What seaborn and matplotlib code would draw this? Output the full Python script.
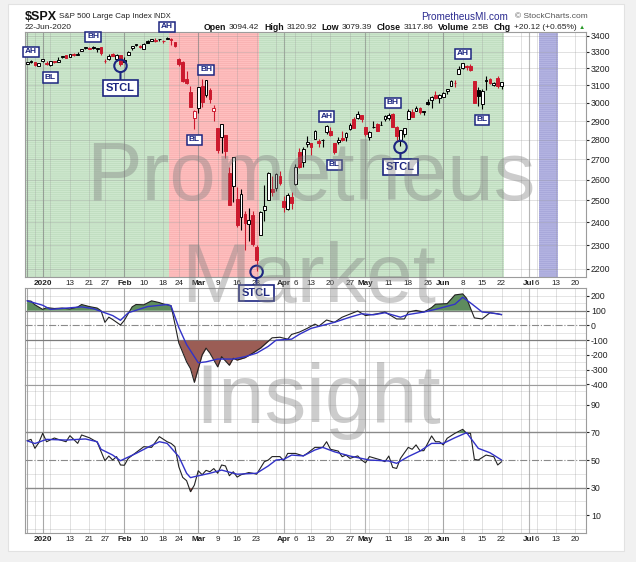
import numpy as np
import pandas as pd
import matplotlib
matplotlib.use("Agg")
import matplotlib.pyplot as plt
from matplotlib.patches import Rectangle
import seaborn as sns

sns.set_style("white")
plt.rcParams["font.family"] = ["Liberation Sans", "DejaVu Sans"]
plt.rcParams["hatch.linewidth"] = 0.35

W, H = 636, 562

# trading calendar (NYSE holidays removed)
holidays = ["2020-01-01", "2020-01-20", "2020-02-17", "2020-04-10", "2020-05-25", "2020-07-03"]
days = pd.bdate_range("2019-12-26", "2020-07-24")
days = days[~days.isin(pd.to_datetime(holidays))]
pos = {d.strftime("%Y-%m-%d"): i for i, d in enumerate(days)}

# $SPX daily candles, 26-Dec-2019 .. 22-Jun-2020
opens = [3227.20, 3247.23, 3240.09, 3215.18,
         3244.67, 3226.36, 3217.55, 3241.86, 3238.59, 3266.03, 3281.81, 3271.13, 3285.35, 3282.27, 3302.97,
         3323.66, 3321.03, 3330.02, 3315.77, 3333.10, 3247.16, 3255.35, 3289.46, 3256.45, 3282.33,
         3235.66, 3280.61, 3324.91, 3344.92, 3335.54, 3318.28, 3365.87, 3370.50, 3365.90, 3378.08,
         3369.04, 3380.39, 3380.45, 3360.50, 3257.61, 3238.94, 3139.90, 3062.54, 2916.90,
         2974.28, 3096.46, 3045.75, 3075.70, 2954.20, 2863.89, 2813.48, 2825.60, 2630.86, 2569.99, 2508.59,
         2425.66, 2436.50, 2393.48, 2431.94, 2290.71, 2344.44, 2457.77, 2501.29, 2555.87, 2558.98, 2614.69,
         2498.08, 2458.54, 2514.92, 2578.28, 2738.65, 2685.00, 2776.99, 2782.46, 2805.10, 2795.64, 2799.34,
         2842.43, 2845.62, 2784.81, 2787.89, 2810.42, 2812.64, 2854.65, 2909.96, 2918.46, 2930.91,
         2869.09, 2815.01, 2868.88, 2883.14, 2878.26, 2908.83, 2915.46, 2939.50, 2865.86, 2794.54,
         2829.95, 2913.86, 2948.59, 2953.63, 2969.95, 2948.05, 3004.08, 3015.65, 3046.61, 3025.17,
         3031.15, 3064.78, 3098.90, 3111.56, 3163.84, 3199.92, 3213.32, 3213.42, 3123.53, 3071.04,
         2993.76, 3131.00, 3136.13, 3101.64, 3140.29, 3094.42]
highs = [3240.08, 3247.93, 3240.92, 3231.72,
         3258.14, 3246.15, 3246.84, 3244.91, 3267.07, 3275.58, 3282.99, 3288.13, 3294.25, 3298.66, 3317.11,
         3329.88, 3329.79, 3337.77, 3326.88, 3333.18, 3258.85, 3285.78, 3293.47, 3285.91, 3282.33,
         3268.44, 3306.92, 3337.58, 3347.96, 3341.42, 3352.26, 3375.63, 3381.47, 3385.09, 3380.69,
         3375.01, 3393.52, 3389.15, 3360.76, 3259.81, 3246.99, 3182.51, 3097.07, 2959.72,
         3090.96, 3136.72, 3130.97, 3083.04, 2985.93, 2863.89, 2882.59, 2825.60, 2660.95, 2711.33, 2562.98,
         2553.93, 2453.57, 2466.97, 2453.01, 2300.73, 2449.71, 2571.42, 2637.01, 2615.91, 2631.80, 2641.39,
         2522.75, 2533.22, 2538.18, 2676.85, 2756.89, 2760.75, 2818.57, 2782.46, 2851.85, 2801.88, 2806.51,
         2879.22, 2868.98, 2785.54, 2815.10, 2844.90, 2842.71, 2887.72, 2921.15, 2954.86, 2930.91,
         2869.09, 2844.24, 2898.23, 2891.11, 2901.92, 2932.16, 2944.25, 2945.82, 2874.14, 2852.80,
         2865.01, 2968.09, 2964.21, 2980.29, 2978.50, 2956.76, 3021.72, 3036.25, 3068.67, 3049.17,
         3062.18, 3081.07, 3130.94, 3128.91, 3211.72, 3233.13, 3222.71, 3223.27, 3123.53, 3088.42,
         3079.76, 3153.45, 3141.16, 3120.00, 3155.53, 3120.92]
lows = [3227.20, 3234.37, 3216.57, 3212.03,
        3235.53, 3222.34, 3214.64, 3232.43, 3236.67, 3263.67, 3260.86, 3268.43, 3277.19, 3280.69, 3302.82,
        3318.86, 3316.61, 3320.04, 3301.87, 3281.53, 3234.50, 3253.22, 3271.89, 3242.80, 3214.68,
        3235.66, 3280.61, 3313.75, 3334.39, 3322.12, 3317.77, 3352.72, 3369.72, 3360.52, 3366.15,
        3355.61, 3378.83, 3341.02, 3328.45, 3214.65, 3118.77, 3108.99, 2977.39, 2855.84,
        2945.19, 2976.63, 3034.38, 2999.83, 2901.54, 2734.43, 2734.00, 2707.22, 2478.86, 2492.37, 2380.94,
        2367.04, 2280.52, 2319.78, 2295.56, 2191.86, 2344.44, 2407.53, 2500.72, 2520.02, 2545.28, 2571.15,
        2447.49, 2455.79, 2459.96, 2574.57, 2657.67, 2663.30, 2762.36, 2721.17, 2805.10, 2761.54, 2764.32,
        2830.88, 2820.43, 2727.10, 2775.95, 2794.26, 2791.76, 2852.89, 2860.71, 2912.16, 2892.47,
        2821.61, 2797.85, 2863.55, 2847.65, 2876.48, 2902.88, 2903.44, 2869.59, 2793.15, 2766.64,
        2816.78, 2913.86, 2922.35, 2953.63, 2938.57, 2933.59, 2988.17, 2969.75, 3023.40, 2998.61,
        3031.15, 3051.64, 3098.90, 3090.41, 3163.84, 3196.00, 3193.11, 3181.49, 2999.49, 2984.47,
        2965.66, 3076.06, 3108.03, 3093.51, 3083.11, 3079.39]
closes = [3239.91, 3240.02, 3221.29, 3230.78,
          3257.85, 3234.85, 3246.28, 3237.18, 3253.05, 3274.70, 3265.35, 3288.13, 3283.15, 3289.29, 3316.81,
          3329.62, 3320.79, 3321.75, 3325.54, 3295.47, 3243.63, 3276.24, 3273.40, 3283.66, 3225.52,
          3248.92, 3297.59, 3334.69, 3345.78, 3327.71, 3352.09, 3357.75, 3379.45, 3373.94, 3380.16,
          3370.29, 3386.15, 3373.23, 3337.75, 3225.89, 3128.21, 3116.39, 2978.76, 2954.22,
          3090.23, 3003.37, 3130.12, 3023.94, 2972.37, 2746.56, 2882.23, 2741.38, 2480.64, 2711.02, 2386.13,
          2529.19, 2398.10, 2409.39, 2304.92, 2237.40, 2447.33, 2475.56, 2630.07, 2541.47, 2626.65, 2584.59,
          2470.50, 2526.90, 2488.65, 2663.68, 2659.41, 2749.98, 2789.82, 2761.63, 2846.06, 2783.36, 2799.55,
          2874.56, 2823.16, 2736.56, 2799.31, 2797.80, 2836.74, 2878.48, 2863.39, 2939.51, 2912.43,
          2830.71, 2842.74, 2868.44, 2848.42, 2881.19, 2929.80, 2930.32, 2870.12, 2820.00, 2852.50,
          2863.70, 2953.91, 2922.94, 2971.61, 2948.51, 2955.45, 2991.77, 3036.13, 3029.73, 3044.31,
          3055.73, 3080.82, 3122.87, 3112.35, 3193.93, 3232.39, 3207.18, 3190.14, 3002.10, 3041.31,
          3066.59, 3124.74, 3113.49, 3115.34, 3097.74, 3117.86]
close_before = 3223.38  # 24-Dec-2019

# CCI panel (black = CCI, blue = its average)
cci_dates = ["2019-12-26", "2019-12-27", "2019-12-30", "2020-01-02", "2020-01-03", "2020-01-07", "2020-01-09",
             "2020-01-13", "2020-01-15", "2020-01-16", "2020-01-21", "2020-01-23", "2020-01-24", "2020-01-27",
             "2020-01-28", "2020-01-29", "2020-01-31", "2020-02-03", "2020-02-05", "2020-02-06", "2020-02-10",
             "2020-02-12", "2020-02-14", "2020-02-18", "2020-02-20", "2020-02-21", "2020-02-24", "2020-02-26",
             "2020-02-27", "2020-02-28", "2020-03-02", "2020-03-03", "2020-03-04", "2020-03-05", "2020-03-09",
             "2020-03-10", "2020-03-12", "2020-03-13", "2020-03-16", "2020-03-18", "2020-03-20", "2020-03-24",
             "2020-03-26", "2020-03-27", "2020-03-31", "2020-04-02", "2020-04-03", "2020-04-07", "2020-04-09",
             "2020-04-14", "2020-04-15", "2020-04-17", "2020-04-21", "2020-04-23", "2020-04-29", "2020-05-01",
             "2020-05-06", "2020-05-08", "2020-05-13", "2020-05-15", "2020-05-18", "2020-05-20", "2020-05-22",
             "2020-05-27", "2020-05-28", "2020-06-02", "2020-06-04", "2020-06-08", "2020-06-09", "2020-06-11",
             "2020-06-15", "2020-06-17", "2020-06-19", "2020-06-22"]
cci_vals = [167, 165, 140, 109, 121, 115, 118, 112, 125, 142, 128, 118, 100, 21,
            56, 40, 3, 35, 126, 142, 140, 167, 155, 146, 135, 10, -119, -247,
            -293, -386, -293, -200, -154, -188, -281, -212, -270, -223, -235, -219, -188, -154,
            -107, -84, -80, -93, -61, -45, -20, 9, -5, 37, 21, 56, 98, 67,
            79, 91, 44, 44, 91, 102, 91, 121, 144, 148, 207, 214, 184, 51,
            44, 86, 79, 72]
cci_avg_dates = ["2019-12-26", "2020-01-02", "2020-01-06", "2020-01-16", "2020-01-22", "2020-01-29", "2020-01-31",
                 "2020-02-04", "2020-02-11", "2020-02-19", "2020-02-20", "2020-02-24", "2020-02-26", "2020-03-02",
                 "2020-03-04", "2020-03-09", "2020-03-13", "2020-03-18", "2020-03-23", "2020-03-26", "2020-03-30",
                 "2020-04-03", "2020-04-07", "2020-04-13", "2020-04-21", "2020-04-27", "2020-04-30", "2020-05-05",
                 "2020-05-08", "2020-05-14", "2020-05-18", "2020-05-22", "2020-05-28", "2020-06-04", "2020-06-08",
                 "2020-06-10", "2020-06-15", "2020-06-17", "2020-06-22"]
cci_avg_vals = [167, 137, 109, 126, 114, 67, 35, 86, 128, 142, 132, -14, -130, -253,
                -247, -228, -228, -212, -188, -142, -100, -93, -60, -20, 21, 56, 79, 72,
                86, 56, 74, 91, 109, 144, 191, 153, 91, 86, 74]

# RSI panel (black = RSI, blue = its average)
rsi_dates = ["2019-12-26", "2019-12-27", "2019-12-30", "2019-12-31", "2020-01-02", "2020-01-03", "2020-01-07",
             "2020-01-08", "2020-01-10", "2020-01-13", "2020-01-15", "2020-01-16", "2020-01-21", "2020-01-23",
             "2020-01-27", "2020-01-28", "2020-01-29", "2020-01-30", "2020-01-31", "2020-02-03", "2020-02-04",
             "2020-02-10", "2020-02-12", "2020-02-14", "2020-02-19", "2020-02-20", "2020-02-21", "2020-02-24",
             "2020-02-25", "2020-02-26", "2020-02-27", "2020-02-28", "2020-03-02", "2020-03-03", "2020-03-04",
             "2020-03-05", "2020-03-06", "2020-03-09", "2020-03-10", "2020-03-11", "2020-03-12", "2020-03-13",
             "2020-03-16", "2020-03-17", "2020-03-19", "2020-03-20", "2020-03-23", "2020-03-25", "2020-03-26",
             "2020-03-27", "2020-03-31", "2020-04-01", "2020-04-02", "2020-04-06", "2020-04-08", "2020-04-09",
             "2020-04-14", "2020-04-16", "2020-04-17", "2020-04-20", "2020-04-22", "2020-04-23", "2020-04-24",
             "2020-04-27", "2020-04-29", "2020-04-30", "2020-05-01", "2020-05-04", "2020-05-07", "2020-05-08",
             "2020-05-11", "2020-05-12", "2020-05-13", "2020-05-14", "2020-05-18", "2020-05-19", "2020-05-20",
             "2020-05-21", "2020-05-22", "2020-05-27", "2020-05-28", "2020-05-29", "2020-06-01", "2020-06-02",
             "2020-06-04", "2020-06-08", "2020-06-09", "2020-06-10", "2020-06-11", "2020-06-12", "2020-06-16",
             "2020-06-18", "2020-06-19", "2020-06-22"]
rsi_vals = [64, 65, 58.5, 62.6, 69.4, 63.3, 66, 65, 63.3, 67.7, 62.1, 68.2, 66.2, 63,
            49.5, 52.9, 50, 52.5, 46.4, 46.2, 51.2, 59.7, 59.2, 67, 63.3, 62.1, 59.7, 45.1,
            37.4, 35, 27, 31.8, 42.2, 39.3, 42.5, 41.5, 43.8, 40.4, 46.4, 45.7, 38.6, 41.5,
            37.6, 39.3, 40.9, 40.4, 39.7, 48.8, 50, 52.5, 52.5, 49.5, 54.8, 54.8, 53, 54.8,
            59.2, 59.2, 63.3, 57.8, 56.5, 52.4, 53.6, 51.2, 53, 50, 48, 52.5, 50, 48.8,
            52.9, 44.6, 43.9, 51.2, 59.2, 57.8, 61, 56.8, 56.8, 67.5, 63.3, 63.3, 61, 65.8,
            69.4, 72.3, 69.4, 69.4, 50.5, 50, 53.6, 52.4, 46.4, 48.8]
rsi_avg_dates = ["2019-12-26", "2019-12-30", "2020-01-03", "2020-01-10", "2020-01-17", "2020-01-23", "2020-01-24",
                 "2020-01-29", "2020-01-31", "2020-02-06", "2020-02-11", "2020-02-14", "2020-02-19", "2020-02-24",
                 "2020-02-26", "2020-02-27", "2020-02-28", "2020-03-05", "2020-03-10", "2020-03-16", "2020-03-23",
                 "2020-03-26", "2020-03-30", "2020-04-01", "2020-04-03", "2020-04-08", "2020-04-14", "2020-04-16",
                 "2020-04-21", "2020-04-27", "2020-05-04", "2020-05-11", "2020-05-13", "2020-05-18", "2020-05-21",
                 "2020-05-27", "2020-06-01", "2020-06-04", "2020-06-09", "2020-06-12", "2020-06-17", "2020-06-22"]
rsi_avg_vals = [64, 62, 65, 64.5, 65.3, 63.3, 57.8, 53.6, 49.5, 54.8, 59.2, 63.3, 62.1, 52.5,
                40.4, 37.2, 37.9, 40.4, 42.7, 39.7, 40.4, 45.7, 50, 50.5, 53.6, 53, 57.3, 59.2,
                56, 52.9, 50, 49.3, 47.6, 52.5, 56.5, 62.1, 62.1, 66.2, 69.9, 58.5, 55.3, 50]

# chart annotations
mark_text = ["AH", "BL", "BH", "AH", "BL", "BH", "AH", "BL", "BH", "AH", "BL"]
mark_dates = ["2019-12-27", "2020-01-06", "2020-01-22", "2020-02-19", "2020-02-28", "2020-03-04",
              "2020-04-17", "2020-04-21", "2020-05-12", "2020-06-08", "2020-06-15"]
mark_prices = [3300, 3144, 3394, 3458, 2800, 3191, 2923, 2672, 3000, 3288, 2906]
stcl_dates = ["2020-01-31", "2020-03-23", "2020-05-14"]
stcl_circle = [3215, 2188, 2763]
stcl_box = [3086, 2103, 2662]

# shaded signal periods: (start date, end date)
green_periods = [("2019-12-26", "2020-02-19"), ("2020-03-24", "2020-06-22")]
red_periods = [("2020-02-20", "2020-03-23")]
blue_periods = [("2020-07-07", "2020-07-13")]

tick_dates = ["2020-01-02", "2020-01-13", "2020-01-21", "2020-01-27", "2020-02-03", "2020-02-10", "2020-02-18",
              "2020-02-24", "2020-03-02", "2020-03-09", "2020-03-16", "2020-03-23", "2020-04-01", "2020-04-06",
              "2020-04-13", "2020-04-20", "2020-04-27", "2020-05-01", "2020-05-11", "2020-05-18", "2020-05-26",
              "2020-06-01", "2020-06-08", "2020-06-15", "2020-06-22", "2020-07-01", "2020-07-06", "2020-07-13",
              "2020-07-20"]
tick_labels = ["2020", "13", "21", "27", "Feb", "10", "18", "24", "Mar", "9", "16", "23", "Apr", "6",
               "13", "20", "27", "May", "11", "18", "26", "Jun", "8", "15", "22", "Jul", "6", "13", "20"]

navy = "#1c2580"
red = "#cc1a2e"


def px_axes(left, top, right, bottom):
    return [left / W, 1 - bottom / H, (right - left) / W, (bottom - top) / H]


def idx(dates):
    return np.array([pos[d] for d in dates], dtype=float)


fig = plt.figure(figsize=(W / 100, H / 100), dpi=100, facecolor="#f1f1f1")
fig.patches.append(Rectangle((8 / W, 1 - 551 / H), 616 / W, 547 / H, transform=fig.transFigure,
                             facecolor="white", edgecolor="#e2e2e2", lw=0.8, zorder=-10))

ax = fig.add_axes(px_axes(25, 32, 586, 277))
ax2 = fig.add_axes(px_axes(25, 288, 586, 385))
ax3 = fig.add_axes(px_axes(25, 385, 586, 533))
ax.set_zorder(3)
ax2.set_zorder(1)
ax3.set_zorder(1)

xmin, xmax = -0.55, 143.7
week_starts = sorted(set(pd.Series(np.arange(len(days)), index=days).groupby(
    days.isocalendar().week.values + days.year.values * 100).min().values))
month_starts = sorted(set(pd.Series(np.arange(len(days)), index=days).groupby(
    days.month.values + days.year.values * 100).min().values))

for a in (ax, ax2, ax3):
    a.set_xlim(xmin, xmax)
    for w in week_starts:
        a.axvline(w, color="#9a9a9a", lw=0.6, alpha=0.35, zorder=1)
    for m in month_starts:
        a.axvline(m, color="#7a7a7a", lw=0.8, alpha=0.55, zorder=1)
    for s in a.spines.values():
        s.set_color("#9c9c9c")
        s.set_linewidth(0.8)
    a.yaxis.tick_right()
    a.tick_params(axis="y", labelsize=6.3, length=2, pad=1.5, colors="#222222")
    a.tick_params(axis="x", length=0)

# ---- price panel ----
ax.set_yscale("log")
ax.set_ylim(2167, 3425)
ax.yaxis.set_minor_locator(matplotlib.ticker.NullLocator())
price_ticks = list(range(2200, 3500, 100))
ax.set_yticks(price_ticks)
ax.set_yticklabels([str(p) for p in price_ticks])
for p in price_ticks:
    ax.axhline(p, color="#9a9a9a", lw=0.6, alpha=0.35, zorder=1)

for periods, fc, hc in ((green_periods, "#cde7cd", "#b6d6b6"),
                        (red_periods, "#ffbfbf", "#f4a7a7"),
                        (blue_periods, "#b4b4e2", "#9c9cd2")):
    for a0, a1 in periods:
        ax.axvspan(pos[a0] - 0.5, pos[a1] + 0.5, facecolor=fc, edgecolor=hc, hatch="-" * 8, lw=0, zorder=0)

o = np.array(opens)
h = np.array(highs)
l = np.array(lows)
c = np.array(closes)
x = np.arange(len(c))
prev = np.r_[close_before, c[:-1]]
edge = np.where(c >= prev, "black", red)
face = np.where(c > o, "white", edge)
ax.vlines(x, l, h, colors=edge, lw=0.8, zorder=3)
body = np.maximum(np.abs(c - o), 1.5)
ax.bar(x, body, bottom=np.minimum(o, c), width=0.72, color=face, edgecolor=edge, linewidth=0.7, zorder=4)

for t, d, p in zip(mark_text, mark_dates, mark_prices):
    ax.text(pos[d], p, t, ha="center", va="center", fontsize=6, fontweight="bold", color=navy, zorder=8,
            clip_on=False, bbox=dict(boxstyle="square,pad=0.22", facecolor="white", edgecolor=navy, lw=1.1))
for d, pc, pb in zip(stcl_dates, stcl_circle, stcl_box):
    ax.scatter([pos[d]], [pc], s=80, facecolors="none", edgecolors=navy, linewidths=1.5, zorder=9, clip_on=False)
    ax.annotate("STCL", xy=(pos[d], pc), xytext=(pos[d], pb), ha="center", va="center", fontsize=8,
                fontweight="bold", color=navy, zorder=9, annotation_clip=False,
                bbox=dict(boxstyle="square,pad=0.25", facecolor="white", edgecolor=navy, lw=1.2),
                arrowprops=dict(arrowstyle="-", color=navy, lw=1.5, shrinkA=0, shrinkB=4.6))

# ---- CCI panel ----
ax2.set_ylim(-404, 254)
ax2.set_yticks([200, 100, 0, -100, -200, -300, -400])
ax2.set_yticklabels(["200", "100", "0", "-100", "-200", "-300", "-400"])
for v in (200, -200, -300, 150, 50, -50, -150, -250, -350):
    ax2.axhline(v, color="#9a9a9a", lw=0.6, alpha=0.3, zorder=1)
ax2.axhline(100, color="#7d7d7d", lw=0.9, zorder=2)
ax2.axhline(-100, color="#7d7d7d", lw=0.9, zorder=2)
ax2.axhline(0, color="#8a8a8a", lw=0.8, ls="-.", zorder=2)
cx = idx(cci_dates)
cv = np.array(cci_vals, dtype=float)
ax2.fill_between(cx, cv, 100, where=cv > 100, interpolate=True, color="#5e8c5e", lw=0, zorder=2)
ax2.fill_between(cx, cv, -100, where=cv < -100, interpolate=True, color="#9b5d55", lw=0, zorder=2)
sns.lineplot(x=cx, y=cv, ax=ax2, color="#222222", lw=0.8, zorder=3)
sns.lineplot(x=idx(cci_avg_dates), y=cci_avg_vals, ax=ax2, color="#3232c8", lw=1.0, zorder=4)
ax2.set_xticks([])

# ---- RSI panel ----
ax3.set_ylim(-3, 104.5)
ax3.set_yticks([90, 70, 50, 30, 10])
ax3.set_yticklabels(["90", "70", "50", "30", "10"])
for v in (100, 90, 80, 60, 40, 20, 10, 0):
    ax3.axhline(v, color="#9a9a9a", lw=0.6, alpha=0.3, zorder=1)
ax3.axhline(70, color="#8a8a8a", lw=1.0, zorder=2)
ax3.axhline(30, color="#8a8a8a", lw=1.0, zorder=2)
ax3.axhline(50, color="#8a8a8a", lw=0.8, ls="-.", zorder=2)
rx = idx(rsi_dates)
rv = np.array(rsi_vals, dtype=float)
ax3.fill_between(rx, rv, 70, where=rv > 70, interpolate=True, color="#5e8c5e", lw=0, zorder=2)
ax3.fill_between(rx, rv, 30, where=rv < 30, interpolate=True, color="#9b5d55", lw=0, zorder=2)
sns.lineplot(x=rx, y=rv, ax=ax3, color="#222222", lw=0.8, zorder=3)
sns.lineplot(x=idx(rsi_avg_dates), y=rsi_avg_vals, ax=ax3, color="#3232c8", lw=1.0, zorder=4)

for a in (ax, ax3):
    a.set_xticks(idx(tick_dates))
    a.set_xticklabels(tick_labels)
    a.tick_params(axis="x", labelsize=5.9, pad=2, colors="#222222")
    for lab in a.get_xticklabels():
        if not lab.get_text().isdigit() or lab.get_text() == "2020":
            lab.set_fontweight("bold")
for a in (ax, ax2, ax3):
    a.set_xlabel("")
    a.set_ylabel("")

# ---- header ----
def fx(xp, yp):
    return xp / W, 1 - yp / H


fig.text(*fx(25, 16.5), "$SPX", fontsize=9, fontweight="bold", va="center", color="#111111")
fig.text(*fx(59, 16.5), "S&P 500 Large Cap Index", fontsize=5.8, va="center", color="#222222")
fig.text(*fx(153, 16.5), "INDX", fontsize=5.3, va="center", color="#222222")
fig.text(*fx(25, 27.5), "22-Jun-2020", fontsize=6.0, va="center", color="#222222")
fig.text(*fx(421, 17), "PrometheusMI.com", fontsize=7.2, va="center", color="#2b2b90")
fig.text(*fx(515, 17), "\u00a9 StockCharts.com", fontsize=6.0, va="center", color="#555555")

parts = [("Open", "bold", "#111111", 2.5), ("3094.42", "normal", "#222222", 5),
         ("High", "bold", "#111111", 2.5), ("3120.92", "normal", "#222222", 5),
         ("Low", "bold", "#111111", 2.5), ("3079.39", "normal", "#222222", 5),
         ("Close", "bold", "#111111", 2.5), ("3117.86", "normal", "#222222", 5),
         ("Volume", "bold", "#111111", 2.5), ("2.5B", "normal", "#222222", 5),
         ("Chg", "bold", "#111111", 2.5), ("+20.12 (+0.65%)", "normal", "#222222", 2),
         ("\u25b2", "normal", "#2a9a2a", 0)]
renderer = fig.canvas.get_renderer()
xp = 204
for s, wgt, col, gap in parts:
    t = fig.text(*fx(xp, 27.5), s, fontsize=6.3 if wgt == "bold" else 6.0, fontweight=wgt, color=col,
                 va="center", ha="left")
    if s == "\u25b2":
        t.set_fontsize(4.5)
    xp += t.get_window_extent(renderer=renderer).width + gap

# ---- watermark ----
for word, xw, yw in (("Prometheus", 311, 200), ("Market", 309, 302), ("Insight", 318, 423)):
    fig.text(*fx(xw, yw), word, fontsize=60, color="#808080", alpha=0.4, ha="center", va="baseline",
             zorder=50)

fig.savefig("out.png", dpi=100, facecolor=fig.get_facecolor())
